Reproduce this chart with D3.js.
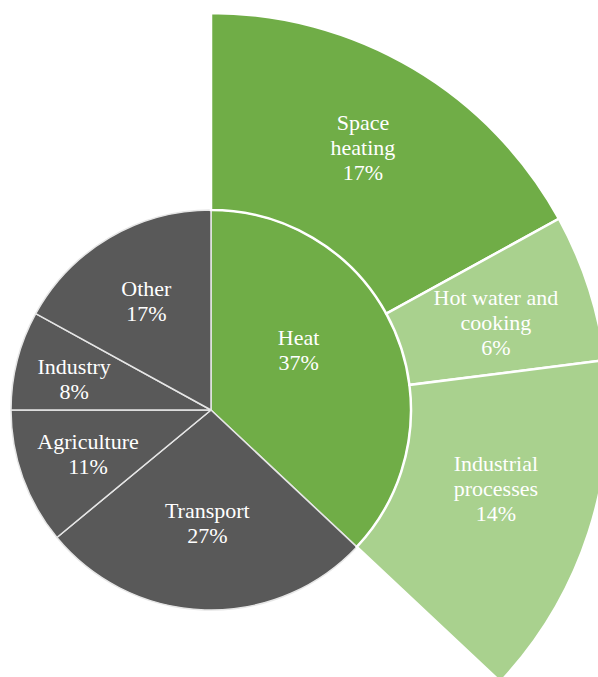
<!DOCTYPE html>
<html>
<head>
<meta charset="utf-8">
<script src="https://cdn.jsdelivr.net/npm/d3@7"></script>
<style>
  html, body { margin: 0; padding: 0; background: #fff; }
  svg { display: block; }
</style>
</head>
<body>
<svg id="chart" width="598" height="677"></svg>
<script>
// Shares of final energy use by sector (%)
const categories = ["Heat", "Transport", "Agriculture", "Industry", "Other"];
const shares = [37, 27, 11, 8, 17];

// Breakdown of the heat share (%)
const heatUses = ["Space\nheating", "Hot water and\ncooking", "Industrial\nprocesses"];
const heatShares = [17, 6, 14];

const width = 598, height = 677;
const cx = 211, cy = 410;
const rInner = 200, rOuter = 397;

// small hand adjustments of label placement (px)
const labelNudge = {
  "Heat": [-9, -18],
  "Transport": [0, -5],
  "Industry": [-9, 2],
  "Space\nheating": [0, -6],
  "Hot water and\ncooking": [1, 5],
  "Industrial\nprocesses": [1, -14]
};

const svg = d3.select("#chart");
const g = svg.append("g").attr("transform", `translate(${cx},${cy})`);

const sectorColor = d3.scaleOrdinal()
  .domain(categories)
  .range(["#70AD47", "#595959", "#595959", "#595959", "#595959"]);
const heatColor = d3.scaleOrdinal()
  .domain(heatUses)
  .range(["#70AD47", "#A9D18E", "#A9D18E"]);

const total = d3.sum(shares);
const sectors = d3.pie().sort(null).value(d => d.v)(
  categories.map((c, i) => ({ c, v: shares[i] })));

const heatEnd = 2 * Math.PI * shares[0] / total;
const heatSlices = d3.pie().sort(null).startAngle(0).endAngle(heatEnd).value(d => d.v)(
  heatUses.map((c, i) => ({ c, v: heatShares[i] })));

const innerArc = d3.arc().innerRadius(0).outerRadius(rInner);
const ringArc = d3.arc().innerRadius(rInner).outerRadius(rOuter);

// inner pie
g.selectAll("path.sector").data(sectors).join("path")
  .attr("class", "sector")
  .attr("d", innerArc)
  .attr("fill", d => sectorColor(d.data.c))
  .attr("stroke", "#e6e6e6")
  .attr("stroke-width", 1.5)
  .attr("stroke-linejoin", "round");

// outer ring for heat uses
g.selectAll("path.ring").data(heatSlices).join("path")
  .attr("class", "ring")
  .attr("d", ringArc)
  .attr("fill", d => heatColor(d.data.c))
  .attr("stroke", "#fff")
  .attr("stroke-width", 2.5);

const lineH = 25;
function drawLabel(key, lines, x, y) {
  const [nx, ny] = labelNudge[key] || [0, 0];
  const t = g.append("text")
    .attr("text-anchor", "middle")
    .attr("font-family", "Liberation Serif")
    .attr("font-size", 22)
    .attr("fill", "#fff");
  lines.forEach((ln, i) => {
    t.append("tspan")
      .attr("x", x + nx)
      .attr("y", y + ny + (i - (lines.length - 1) / 2) * lineH)
      .attr("dy", "0.35em")
      .text(ln);
  });
}

// sector labels at the area centroid of each wedge
sectors.forEach(d => {
  const half = (d.endAngle - d.startAngle) / 2;
  const r = 2 * rInner * Math.sin(half) / (3 * half);
  const a = (d.startAngle + d.endAngle) / 2;
  drawLabel(d.data.c, [d.data.c, d.data.v + "%"], r * Math.sin(a), -r * Math.cos(a));
});

// heat-use labels at ring centroids
heatSlices.forEach(d => {
  const [x, y] = ringArc.centroid(d);
  drawLabel(d.data.c, [...d.data.c.split("\n"), d.data.v + "%"], x, y);
});
</script>
</body>
</html>
